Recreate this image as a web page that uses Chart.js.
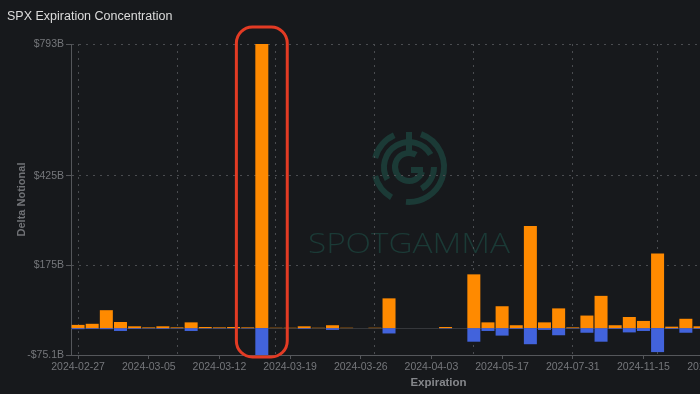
<!DOCTYPE html>
<html>
<head>
<meta charset="utf-8">
<script src="https://cdn.jsdelivr.net/npm/chart.js@4.4.1/dist/chart.umd.min.js"></script>
<style>
  html, body { margin: 0; padding: 0; background: #17191c; }
  #wrap { position: relative; width: 700px; height: 394px; overflow: hidden; background: #17191c; }
  #title { position: absolute; left: 7px; top: 9px; font-family: "Liberation Sans", Arial, sans-serif; font-size: 12.5px; color: #dcdcdc; }
  canvas { position: absolute; left: 0; top: 0; }
</style>
</head>
<body>
<div id="wrap">
  <canvas id="c" width="840" height="394"></canvas>
  <div id="title">SPX Expiration Concentration</div>
</div>
<script>
const categories = [
  '2024-02-27','2024-02-28','2024-02-29','2024-03-01','2024-03-04','2024-03-05','2024-03-06','2024-03-07','2024-03-08','2024-03-11',
  '2024-03-12','2024-03-13','2024-03-14','2024-03-15','2024-03-18','2024-03-19','2024-03-20','2024-03-21','2024-03-22','2024-03-25',
  '2024-03-26','2024-03-27','2024-03-28','2024-04-01','2024-04-02','2024-04-03','2024-04-05','2024-04-12','2024-04-19','2024-04-30',
  '2024-05-17','2024-05-31','2024-06-21','2024-06-28','2024-07-19','2024-07-31','2024-08-16','2024-09-20','2024-09-30','2024-10-18',
  '2024-11-15','2024-12-20','2024-12-31','2025-01-17','2025-02-21','2025-03-21','2025-03-31','2025-06-20','2025-09-19','2025-12-19',
  '2026-06-18','2026-12-18'
];
// Positive (call) delta notional, $B
const callValues = [
  9, 12, 50, 17, 5, 2, 5, 2, 16, 3,
  2, 3, 2, 793, 1, 1, 5, 1, 8, 1,
  0, 1, 83, 0, 0, 0, 3, 0, 150, 16,
  61, 8, 285, 16, 55, 2, 35, 90, 8, 31,
  20, 208, 4, 26, 5, null, null, null, null, null,
  null, null
];
// Negative (put) delta notional, $B
const putValues = [
  -3, -2, -3, -8, -2, -1, -2, -1, -8, -1,
  -1, -1, -1, -75.1, 0, 0, -2, 0, -5, 0,
  0, 0, -15, 0, 0, 0, -1, 0, -38, -8,
  -21, -2, -45, -5, -20, -1, -13, -38, -2, -12,
  -8, -67, -2, -13, -2, null, null, null, null, null,
  null, null
];
const yTickValues = [-75.1, 175, 425, 793];
const yTickLabels = ['-$75.1B', '$175B', '$425B', '$793B'];
const xLabelEvery = 5;
const vGridIdx = [0, 7, 14, 21, 28, 35, 41];
const highlightIndex = 13;

const GRID = '#4a4c50';
const AXIS = '#55575b';
const TICKTXT = '#75777b';
const FONT = '"Liberation Sans", Arial, sans-serif';

const watermark = {
  id: 'watermark',
  beforeDraw(chart) {
    const ctx = chart.ctx;
    const cx = 409, cy = 167;
    ctx.save();
    ctx.strokeStyle = '#1b3a36';
    ctx.fillStyle = '#1b3a36';
    ctx.lineCap = 'butt';
    ctx.lineWidth = 6;
    const d = Math.PI / 180;
    const arc = (r, a0, a1) => { ctx.beginPath(); ctx.arc(cx, cy, r, a0 * d, a1 * d); ctx.stroke(); };
    arc(35, -70, 95); arc(35, 120, 165); arc(35, 195, 245);
    arc(25, 150, 330); arc(25, 0, 60);
    arc(14, 20, 300);
    ctx.beginPath(); ctx.moveTo(cx, cy - 35); ctx.lineTo(cx, cy - 14); ctx.stroke();
    ctx.beginPath(); ctx.moveTo(cx + 2, cy + 3); ctx.lineTo(cx + 14, cy + 3); ctx.stroke();
    ctx.font = '300 28px "Open Sans", Lato, sans-serif';
    ctx.textAlign = 'left';
    ctx.textBaseline = 'alphabetic';
    const txt = 'SPOTGAMMA';
    const w = ctx.measureText(txt).width;
    const target = 202;
    ctx.translate(308, 253);
    ctx.scale(target / w, 1);
    ctx.fillText(txt, 0, 0);
    ctx.restore();
  }
};

const overlay = {
  id: 'overlay',
  beforeDatasetsDraw(chart) {
    const ctx = chart.ctx, xs = chart.scales.x, ys = chart.scales.y;
    const y0 = ys.getPixelForValue(0);
    ctx.save();
    ctx.strokeStyle = '#35373b';
    ctx.lineWidth = 1;
    ctx.beginPath(); ctx.moveTo(xs.left, Math.round(y0) + 0.5); ctx.lineTo(xs.right, Math.round(y0) + 0.5); ctx.stroke();
    ctx.restore();
  },
  afterDatasetsDraw(chart) {
    const ctx = chart.ctx, xs = chart.scales.x, ys = chart.scales.y;
    const cw = xs.width / categories.length;
    const cx = xs.getPixelForValue(highlightIndex);
    const l = cx - 1.8 * cw, r = cx + 1.8 * cw;
    const t = ys.getPixelForValue(ys.max) - 17, b = ys.getPixelForValue(ys.min) + 2;
    ctx.save();
    ctx.strokeStyle = '#e33b24';
    ctx.lineWidth = 3;
    ctx.beginPath();
    if (ctx.roundRect) ctx.roundRect(l, t, r - l, b - t, 16); else ctx.rect(l, t, r - l, b - t);
    ctx.stroke();
    ctx.restore();
  }
};

new Chart(document.getElementById('c'), {
  type: 'bar',
  data: {
    labels: categories,
    datasets: [
      { label: 'Calls', data: callValues, backgroundColor: '#ff8a00', borderWidth: 0, barPercentage: 0.92, categoryPercentage: 1.0 },
      { label: 'Puts', data: putValues, backgroundColor: '#4263dc', borderWidth: 0, barPercentage: 0.92, categoryPercentage: 1.0 }
    ]
  },
  options: {
    responsive: false,
    animation: false,
    devicePixelRatio: 1,
    layout: { padding: { left: 0, right: 34, top: 44, bottom: 0 } },
    plugins: { legend: { display: false }, tooltip: { enabled: false }, title: { display: false } },
    scales: {
      x: {
        type: 'category',
        stacked: true,
        offset: true,
        grid: {
          offset: false,
          drawOnChartArea: true,
          color: (c) => (c.index !== undefined && vGridIdx.includes(c.index)) ? GRID : 'rgba(0,0,0,0)',
          tickColor: (c) => (c.index !== undefined && c.index % xLabelEvery === 0) ? AXIS : 'rgba(0,0,0,0)',
          tickLength: 4,
          lineWidth: 1
        },
        border: { display: true, color: AXIS, width: 1, dash: [2, 5] },
        ticks: {
          autoSkip: false, maxRotation: 0, minRotation: 0, padding: 2,
          color: TICKTXT, font: { family: FONT, size: 10.5 },
          callback: (v, i) => (i % xLabelEvery === 0 ? categories[i] : '')
        },
        title: { display: true, text: 'Expiration', color: '#85878b', font: { family: FONT, size: 11.5, weight: 'bold' }, padding: { top: 0, bottom: 4 } },
        afterFit: (s) => { s.height = 39; }
      },
      y: {
        stacked: true,
        min: -75.1,
        max: 793,
        afterBuildTicks: (s) => { s.ticks = yTickValues.map(v => ({ value: v })); },
        grid: {
          color: (c) => (c.tick && c.tick.value > -75) ? GRID : 'rgba(0,0,0,0)',
          tickColor: AXIS,
          tickLength: 5,
          lineWidth: 1
        },
        border: { display: true, color: AXIS, width: 1, dash: [2, 5] },
        ticks: {
          padding: 2, color: TICKTXT, font: { family: FONT, size: 10.5 },
          callback: (v) => { const k = yTickValues.indexOf(v); return k >= 0 ? yTickLabels[k] : ''; }
        },
        title: { display: true, text: 'Delta Notional', color: '#707276', font: { family: FONT, size: 11, weight: 'bold' }, padding: { top: 15, bottom: 0 } },
        afterFit: (s) => { s.width = 71; }
      }
    }
  },
  plugins: [watermark, overlay]
});
</script>
</body>
</html>
